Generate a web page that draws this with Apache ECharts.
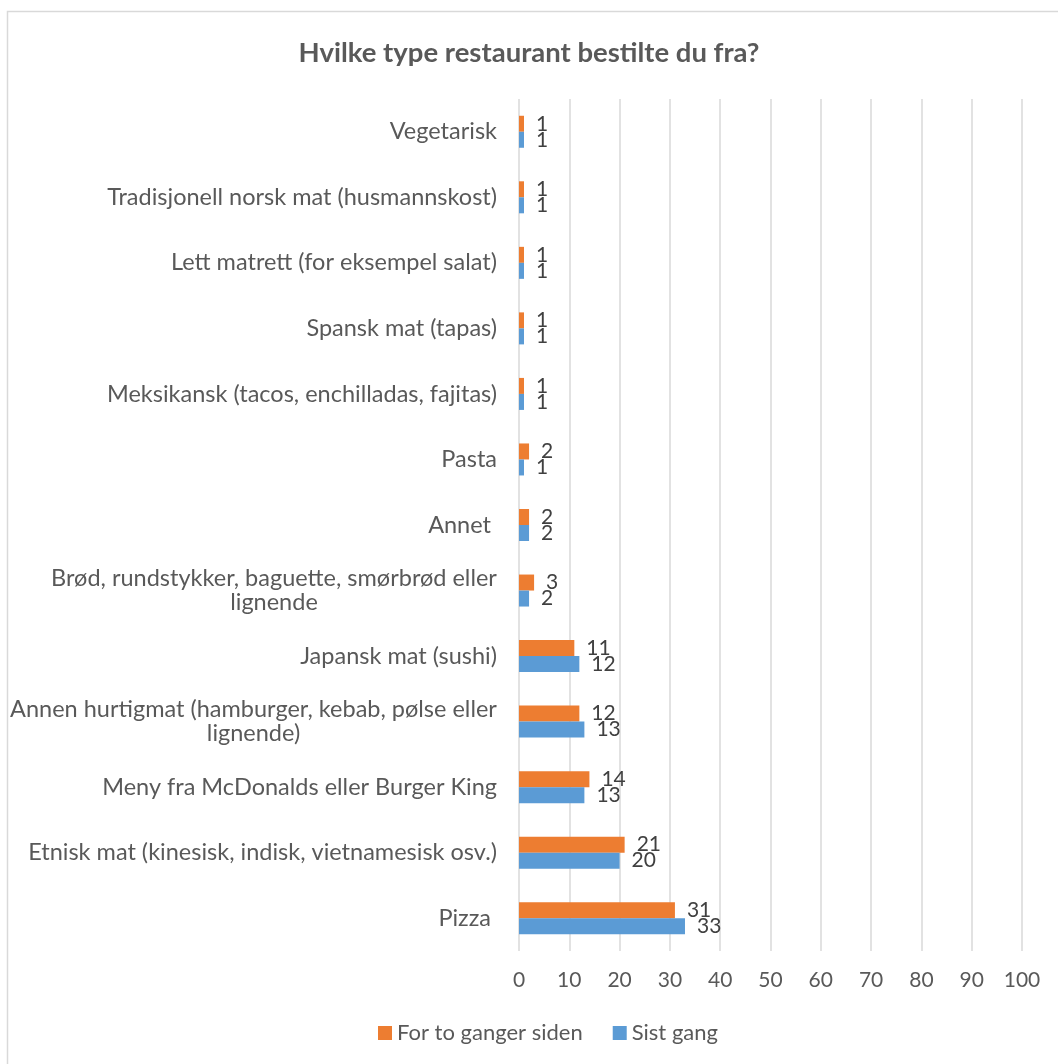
<!DOCTYPE html>
<html>
<head>
<meta charset="utf-8">
<script src="https://cdn.jsdelivr.net/npm/echarts@6/dist/echarts.min.js"></script>
<style>
  html, body { margin: 0; padding: 0; background: #fff; }
  #myChart { width: 1058px; height: 1064px; }
</style>
</head>
<body>
<div id="myChart"></div>
<script>
  // kategorier, ovenfra og ned
  const categories = [
    'Vegetarisk',
    'Tradisjonell norsk mat (husmannskost)',
    'Lett matrett (for eksempel salat)',
    'Spansk mat (tapas)',
    'Meksikansk (tacos, enchilladas, fajitas)',
    'Pasta',
    'Annet ',
    'Brød, rundstykker, baguette, smørbrød eller\nlignende',
    'Japansk mat (sushi)',
    'Annen hurtigmat (hamburger, kebab, pølse eller\nlignende)',
    'Meny fra McDonalds eller Burger King',
    'Etnisk mat (kinesisk, indisk, vietnamesisk osv.)',
    'Pizza '
  ];
  const forToGanger = [1, 1, 1, 1, 1, 2, 2, 3, 11, 12, 14, 21, 31];
  const sistGang = [1, 1, 1, 1, 1, 1, 2, 2, 12, 13, 13, 20, 33];
  const xTicks = { min: 0, max: 100, interval: 10 };

  const FONT = 'Lato';
  const textColor = '#595959';
  const catSize = 23.5;

  // maal bredde paa foerste linje, saa andre linje kan sentreres under
  const ctx = document.createElement('canvas').getContext('2d');
  ctx.font = catSize + 'px ' + FONT;
  const rich = {};
  const labelMap = {};
  categories.forEach((c, i) => {
    const lines = c.split('\n');
    if (lines.length > 1) {
      const w = Math.ceil(ctx.measureText(lines[0]).width);
      const key = 'w' + i;
      rich[key] = { width: w, align: 'center', fontSize: catSize, fontFamily: FONT, color: textColor, lineHeight: 24 };
      labelMap[c] = lines.map(l => '{' + key + '|' + l + '}').join('\n');
    }
  });

  let myChart = echarts.init(document.getElementById('myChart'));
  myChart.setOption({
    animation: false,
    textStyle: { fontFamily: FONT },
    title: {
      text: 'Hvilke type restaurant bestilte du fra?',
      left: 'center',
      top: 34,
      textStyle: { fontSize: 27.5, fontWeight: 'bold', color: textColor, fontFamily: FONT }
    },
    graphic: [{
      type: 'rect',
      shape: { x: 7.5, y: 11.5, width: 1200, height: 1200 },
      style: { fill: 'none', stroke: '#d9d9d9', lineWidth: 1.5 },
      silent: true
    }],
    legend: {
      bottom: 15,
      left: 373,
      itemWidth: 14,
      itemHeight: 14,
      itemGap: 30,
      icon: 'rect',
      data: ['For to ganger siden', 'Sist gang'],
      textStyle: { fontSize: 22, color: textColor, fontFamily: FONT }
    },
    grid: { left: 519, right: 36, top: 99, bottom: 113, containLabel: false },
    xAxis: {
      type: 'value',
      min: xTicks.min,
      max: xTicks.max,
      interval: xTicks.interval,
      axisLine: { show: false },
      axisTick: { show: false },
      splitLine: { lineStyle: { color: '#d9d9d9', width: 1.5 } },
      axisLabel: { fontSize: 21, color: textColor, margin: 19, fontFamily: FONT }
    },
    yAxis: {
      type: 'category',
      inverse: true,
      data: categories,
      axisLine: { show: false },
      axisTick: { show: false },
      axisLabel: {
        fontSize: catSize,
        color: textColor,
        margin: 22,
        lineHeight: 24,
        fontFamily: FONT,
        formatter: v => labelMap[v] || v,
        rich: rich
      }
    },
    series: [
      {
        name: 'For to ganger siden',
        type: 'bar',
        data: forToGanger,
        barWidth: 16,
        barGap: '0%',
        itemStyle: { color: '#ED7D31' },
        label: { show: true, position: 'right', distance: 12, fontSize: 21, color: '#404040', fontFamily: FONT }
      },
      {
        name: 'Sist gang',
        type: 'bar',
        data: sistGang,
        barWidth: 16,
        barGap: '0%',
        itemStyle: { color: '#5B9BD5' },
        label: { show: true, position: 'right', distance: 12, fontSize: 21, color: '#404040', fontFamily: FONT }
      }
    ]
  });
</script>
</body>
</html>
